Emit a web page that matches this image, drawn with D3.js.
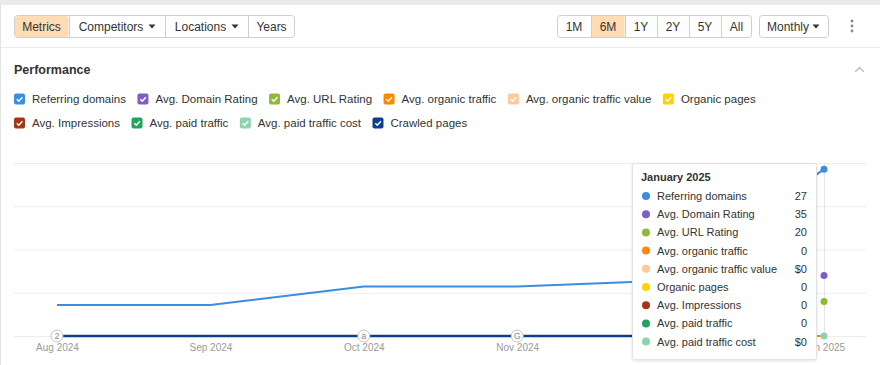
<!DOCTYPE html>
<html>
<head>
<meta charset="utf-8">
<script src="https://cdn.jsdelivr.net/npm/d3@7"></script>
<style>
  body { margin:0; background:#fff; font-family:"Liberation Sans", Arial, sans-serif; }
  svg text { font-family:"Liberation Sans", Arial, sans-serif; }
</style>
</head>
<body>
<svg id="content" width="880" height="365"></svg>
<script>
// ---- data ----
const months = ["Aug 2024","Sep 2024","Oct 2024","Nov 2024","Dec 2024","Jan 2025"];
const referringDomains = [5, 5, 8, 8, 9, 27];
const domainRating = [null, null, null, null, null, 35];
const urlRating = [null, null, null, null, null, 20];
const organicTraffic = [0, 0, 0, 0, 0, 0];
const organicTrafficValue = [0, 0, 0, 0, 0, 0];
const organicPages = [0, 0, 0, 0, 0, 0];
const impressions = [0, 0, 0, 0, 0, 0];
const paidTraffic = [0, 0, 0, 0, 0, 0];
const paidTrafficCost = [0, 0, 0, 0, 0, 0];
const crawledPages = [0, 0, 0, 0, 0, null];

const seriesNames = ["Referring domains","Avg. Domain Rating","Avg. URL Rating","Avg. organic traffic",
  "Avg. organic traffic value","Organic pages","Avg. Impressions","Avg. paid traffic","Avg. paid traffic cost","Crawled pages"];
const seriesColors = ["#3a8ddf","#7b5ec6","#8fba38","#ff8800","#ffc998","#ffd200","#a2361c","#22a45f","#8dd3ad","#0c3f8c"];
const seriesValues = [referringDomains, domainRating, urlRating, organicTraffic, organicTrafficValue,
  organicPages, impressions, paidTraffic, paidTrafficCost, crawledPages];
const seriesMax = [28, 100, 100, 1, 1, 1, 1, 1, 1, 1];

const annotations = [{m:"Aug 2024", t:"2"}, {m:"Oct 2024", t:"a"}, {m:"Nov 2024", t:"G"}];

const leftButtons = ["Metrics","Competitors","Locations","Years"];
const rangeButtons = ["1M","6M","1Y","2Y","5Y","All"];

const tipTitle = "January 2025";
const tipRows = seriesNames.slice(0, 9);
const tipValues = ["27","35","20","0","$0","0","0","0","$0"];

// ---- page chrome ----
const svg = d3.select("#content");
svg.append("rect").attr("x",0).attr("y",0).attr("width",880).attr("height",5).attr("fill","#ebebeb");
svg.append("line").attr("x1",0.5).attr("x2",0.5).attr("y1",5).attr("y2",365).attr("stroke","#e3e3e3");
svg.append("line").attr("x1",1).attr("x2",880).attr("y1",47.5).attr("y2",47.5).attr("stroke","#ececec");

function buttonGroup(labels, x0, widths, active, carets){
  const g = svg.append("g");
  let x = x0;
  const total = d3.sum(widths);
  g.append("rect").attr("x",x0+0.5).attr("y",15.5).attr("width",total-1).attr("height",22)
    .attr("rx",3).attr("fill","#fff").attr("stroke","#cfcfcf");
  labels.forEach((l,i)=>{
    const w = widths[i];
    if (i===active) {
      g.append("rect").attr("x",x+1).attr("y",16).attr("width",w-1.5).attr("height",21)
        .attr("rx", i===0?2.5:0).attr("fill","#ffdcb4");
    }
    if (i>0) g.append("line").attr("x1",x+0.5).attr("x2",x+0.5).attr("y1",16).attr("y2",37).attr("stroke","#cfcfcf");
    const cx = carets && carets[i] ? x + w/2 - 6 : x + w/2;
    g.append("text").attr("x",cx).attr("y",30.5).attr("text-anchor","middle")
      .attr("font-size",12).attr("fill","#333").text(l);
    if (carets && carets[i]) {
      const tx = x + w - 13;
      g.append("path").attr("d",`M${tx-3.5},24.5 L${tx+3.5},24.5 L${tx},28.5 Z`).attr("fill","#333");
    }
    x += w;
  });
}
buttonGroup(leftButtons, 14, [55, 96, 83, 47], 0, [false,true,true,false]);
buttonGroup(rangeButtons, 557, [34, 34, 32, 32, 32, 31], 1, null);
buttonGroup(["Monthly"], 759, [70], -1, [true]);

// kebab
[20,25,30].forEach(y=>svg.append("circle").attr("cx",852).attr("cy",y+1).attr("r",1.4).attr("fill","#888"));

svg.append("text").attr("x",14).attr("y",74).attr("font-size",12.5).attr("font-weight","bold")
  .attr("fill","#333").text("Performance");
svg.append("path").attr("d","M855,72 L859.5,67.5 L864,72").attr("fill","none").attr("stroke","#bbb").attr("stroke-width",1.3);

// ---- legend ----
const legendRows = [[0,1,2,3,4,5],[6,7,8,9]];
legendRows.forEach((row,r)=>{
  let x = 14;
  const y = 99 + r*24;
  row.forEach(i=>{
    const g = svg.append("g");
    g.append("rect").attr("x",x).attr("y",y-5.5).attr("width",11).attr("height",11).attr("rx",2)
      .attr("fill",seriesColors[i]);
    g.append("path").attr("d",`M${x+2.8},${y+0.2} L${x+4.8},${y+2.2} L${x+8.4},${y-1.8}`)
      .attr("fill","none").attr("stroke","#fff").attr("stroke-width",1.5);
    const t = g.append("text").attr("x",x+18).attr("y",y+4.2).attr("font-size",11.5).attr("fill","#333")
      .text(seriesNames[i]);
    x = x + 18 + t.node().getComputedTextLength() + 11.5;
  });
});

// ---- chart ----
const x = d3.scalePoint().domain(months).range([57, 824]);
const yTop = 163, yBase = 336;
const gridScale = d3.scaleLinear().domain([0,4]).range([yBase, yTop]);

svg.append("g").selectAll("line").data(d3.range(5)).join("line")
  .attr("x1",14).attr("x2",866).attr("y1",d=>gridScale(d)+0.5).attr("y2",d=>gridScale(d)+0.5)
  .attr("stroke","#ededed");

// hover line
svg.append("line").attr("x1",x("Jan 2025")+0.5).attr("x2",x("Jan 2025")+0.5)
  .attr("y1",yTop).attr("y2",yBase).attr("stroke","#e4e4e4");

// x axis labels
const xAxis = d3.axisBottom(x).tickSize(0).tickPadding(0);
const ax = svg.append("g").attr("transform",`translate(0,${yBase+8})`).call(xAxis);
ax.select(".domain").remove();
ax.selectAll("text").attr("font-size",10).attr("fill","#9a9a9a").attr("dy","0.71em")
  .style("font-family","'Liberation Sans', Arial, sans-serif");

// lines (draw from bottom of stack up)
const drawOrder = [8,7,6,5,4,3,2,1,9,0];
drawOrder.forEach(i=>{
  const ys = d3.scaleLinear().domain([0, seriesMax[i]]).range([yBase, yTop]);
  const data = months.map((m,j)=>({m, v: seriesValues[i][j]}));
  const line = d3.line().defined(d=>d.v!==null).x(d=>x(d.m)).y(d=>ys(d.v));
  svg.append("path").datum(data).attr("d",line).attr("fill","none")
    .attr("stroke",seriesColors[i]).attr("stroke-width", i===9 ? 2.5 : 2)
    .attr("stroke-linejoin","round");
});

// annotations on baseline
annotations.forEach(a=>{
  const g = svg.append("g").attr("transform",`translate(${x(a.m)},${yBase})`);
  g.append("circle").attr("r",6).attr("fill","#fff").attr("stroke","#c4c4c4");
  g.append("text").attr("y",3.2).attr("text-anchor","middle").attr("font-size",9).attr("fill","#8a8a8a").text(a.t);
});

// Jan hover dots
[8,2,1,0].forEach(i=>{
  const ys = d3.scaleLinear().domain([0, seriesMax[i]]).range([yBase, yTop]);
  const v = seriesValues[i][5];
  svg.append("circle").attr("cx",x("Jan 2025")).attr("cy",ys(v)).attr("r",3.5).attr("fill",seriesColors[i]);
});

// ---- tooltip ----
const tip = svg.append("g").attr("transform","translate(632,163)");
const defs = svg.append("defs");
const f = defs.append("filter").attr("id","sh").attr("x","-10%").attr("y","-10%").attr("width","120%").attr("height","120%");
f.append("feDropShadow").attr("dx",0).attr("dy",1).attr("stdDeviation",1.5).attr("flood-color","#000").attr("flood-opacity",0.12);
tip.append("rect").attr("x",0.5).attr("y",0.5).attr("width",184).attr("height",196).attr("rx",2)
  .attr("fill","#fff").attr("stroke","#e2e2e2").attr("filter","url(#sh)");
tip.append("text").attr("x",9).attr("y",18).attr("font-size",11).attr("font-weight","bold").attr("fill","#333").text(tipTitle);
tipRows.forEach((name,k)=>{
  const y = 33 + k*18.2;
  const i = seriesNames.indexOf(name);
  tip.append("circle").attr("cx",14).attr("cy",y).attr("r",4).attr("fill",seriesColors[i]);
  tip.append("text").attr("x",25).attr("y",y+4).attr("font-size",11).attr("fill","#333").text(name);
  tip.append("text").attr("x",175).attr("y",y+4).attr("text-anchor","end").attr("font-size",11).attr("fill","#333").text(tipValues[k]);
});
</script>
</body>
</html>
